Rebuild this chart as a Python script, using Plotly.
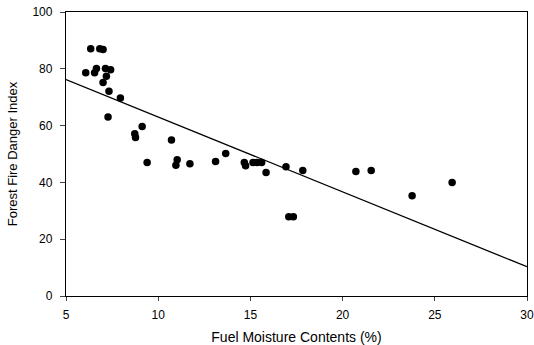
import plotly.graph_objects as go

moisture = [6.34, 6.83, 7.01, 6.07, 6.55, 6.65, 7.14, 7.42, 7.19, 7.01, 7.33, 7.95, 7.28, 9.13,
            8.73, 8.77, 9.40, 10.72, 10.96, 11.03, 11.72, 13.11, 13.66, 14.67, 14.74, 15.14,
            15.36, 15.61, 15.85, 16.93, 17.84, 17.08, 17.33, 20.72, 21.55, 23.77, 25.94]
danger = [87.1, 87.1, 86.8, 78.6, 78.6, 80.1, 80.1, 79.7, 77.4, 75.2, 72.1, 69.7, 63.0, 59.7,
          57.1, 55.8, 47.0, 54.9, 46.0, 48.0, 46.6, 47.4, 50.2, 47.0, 45.9, 47.0,
          47.0, 47.0, 43.5, 45.5, 44.2, 27.9, 27.9, 43.8, 44.2, 35.3, 40.0]

fit_x = [5, 30]
fit_y = [76.2, 10.3]

x_ticks = [5, 10, 15, 20, 25, 30]
y_ticks = [0, 20, 40, 60, 80, 100]

fig = go.Figure()
fig.add_trace(go.Scatter(x=fit_x, y=fit_y, mode="lines",
                         line=dict(color="black", width=1.3), showlegend=False,
                         cliponaxis=False))
fig.add_trace(go.Scatter(x=moisture, y=danger, mode="markers",
                         marker=dict(color="black", size=7.5, line=dict(width=0)),
                         showlegend=False))

font = "Liberation Sans, Arial, sans-serif"
fig.update_layout(
    width=534, height=345,
    margin=dict(l=66, r=7, t=12, b=49, pad=0),
    paper_bgcolor="white", plot_bgcolor="white",
    font=dict(family=font, color="black", size=12),
    xaxis=dict(range=[5, 30], tickvals=x_ticks, ticks="outside", ticklen=4,
               ticklabelstandoff=3, ticklabeloverflow="allow", automargin=False,
               showline=True, linecolor="black", linewidth=1.3, mirror=True,
               showgrid=False, zeroline=False,
               title=dict(text="Fuel Moisture Contents (%)",
                          font=dict(size=14, color="black"), standoff=11),
               tickfont=dict(size=12, color="black")),
    yaxis=dict(range=[0, 100], tickvals=y_ticks, ticks="outside", ticklen=5,
               ticklabelstandoff=5, ticklabeloverflow="allow", automargin=False,
               showline=True, linecolor="black", linewidth=1.3, mirror=True,
               showgrid=False, zeroline=False,
               title=dict(text="Forest Fire Danger Index",
                          font=dict(size=13, color="black"), standoff=11),
               tickfont=dict(size=12, color="black")),
)
fig.write_html("out.html",
               config={"displayModeBar": False},
               post_script="document.body.style.margin='0';document.body.style.overflow='hidden';")
